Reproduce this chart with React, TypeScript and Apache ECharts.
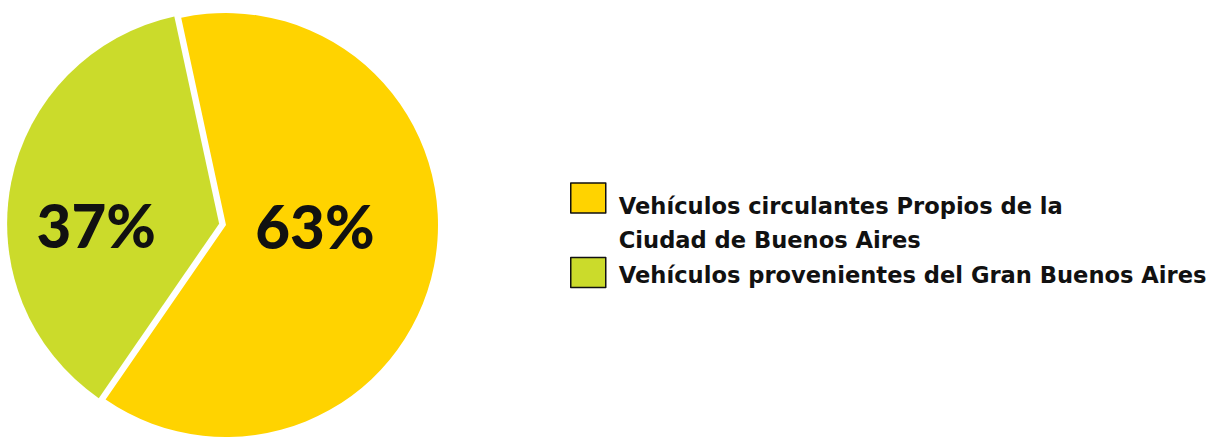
import React, { useEffect, useRef } from "react";
import * as echarts from "echarts";

const categories = [
  "Vehículos circulantes Propios de la\nCiudad de Buenos Aires",
  "Vehículos provenientes del Gran Buenos Aires",
];
const values = [63, 37];
const colors = ["#FFD300", "#CBDB2B"];

export default function App() {
  const ref = useRef<HTMLDivElement>(null);
  useEffect(() => {
    document.body.style.margin = "0";
    const chart = echarts.init(ref.current!, null, { renderer: "svg" });
    chart.setOption({
      animation: false,
      legend: {
        orient: "vertical",
        left: 570,
        top: 159,
        padding: 0,
        itemGap: 2,
        itemWidth: 35,
        itemHeight: 30,
        icon: "rect",
        selectedMode: false,
        itemStyle: { borderColor: "#111", borderWidth: 1.5 },
        formatter: (name: string) => {
          const idx = categories.indexOf(name);
          const lines = name.split("\n").map((l) => `{a|${l}}`).join("\n");
          return (idx === 0 ? "{s| }\n" : "{t| }\n") + lines;
        },
        textStyle: {
          padding: [0, 0, 0, 8],
          rich: {
            s: { lineHeight: 50, fontSize: 10 },
            t: { lineHeight: 4, fontSize: 4 },
            a: {
              fontFamily: "DejaVu Sans",
              fontWeight: "bold",
              fontSize: 22.6,
              lineHeight: 34,
              color: "#111",
            },
          },
        },
        data: categories,
      },
      series: [
        {
          type: "pie",
          center: [226, 225],
          radius: 212,
          startAngle: 102.2,
          clockwise: true,
          silent: true,
          selectedMode: "single",
          selectedOffset: 7,
          avoidLabelOverlap: false,
          emphasis: { disabled: true },
          label: {
            show: true,
            position: "inside",
            formatter: "{c}%",
            fontFamily: "Lato",
            fontWeight: 900,
            fontSize: 60,
            color: "#111",
          },
          labelLine: { show: false },
          labelLayout: (p: any) =>
            p.dataIndex === 0 ? { dx: -18, dy: -20 } : { dx: -16, dy: 23 },
          data: categories.map((name, i) => ({
            name,
            value: values[i],
            selected: i === 1,
            itemStyle: { color: colors[i] },
          })),
        },
      ],
    });
    return () => chart.dispose();
  }, []);
  return <div ref={ref} style={{ width: 1216, height: 439 }} />;
}
